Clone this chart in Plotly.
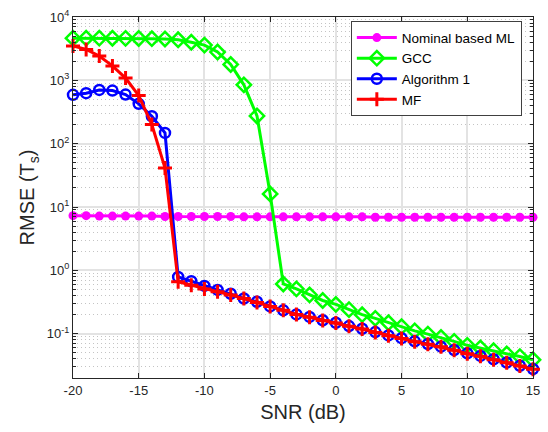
import plotly.graph_objects as go
import math

snr = list(range(-20, 16))

nominal_ml = [7.3, 7.3, 7.2, 7.2, 7.2, 7.2, 7.2, 7.1, 7.1, 7.1, 7.1, 7.1, 7.1, 7.0, 7.0, 7.0,
              7.0, 7.0, 7.0, 7.0, 7.0, 7.0, 7.0, 6.9, 6.9, 6.9, 6.9, 6.9, 6.9, 6.9, 6.9, 6.9,
              6.9, 6.9, 6.9, 6.9]

gcc = [4630, 4630, 4630, 4620, 4600, 4580, 4550, 4500, 4370, 4000, 3600, 2800, 1780, 850, 274, 16.1,
       0.61, 0.51, 0.41, 0.335, 0.29, 0.24, 0.20, 0.175, 0.149, 0.129, 0.111, 0.0986, 0.0875,
       0.0758, 0.0656, 0.0596, 0.054, 0.048, 0.0436, 0.0388]

alg1 = [590, 627, 706, 690, 596, 426, 271, 148, 0.786, 0.673, 0.569, 0.492, 0.427, 0.36, 0.32,
        0.27, 0.234, 0.202, 0.184, 0.163, 0.149, 0.132, 0.12, 0.106, 0.094, 0.085, 0.0758,
        0.0688, 0.0624, 0.0554, 0.049, 0.0446, 0.0396, 0.0351, 0.0312, 0.0277]

mf = [3480, 3080, 2420, 1690, 1086, 575, 200, 41.3, 0.66, 0.583, 0.51, 0.46, 0.41, 0.36, 0.31,
      0.27, 0.234, 0.202, 0.182, 0.162, 0.148, 0.131, 0.119, 0.105, 0.093, 0.084, 0.075,
      0.068, 0.062, 0.055, 0.0485, 0.044, 0.039, 0.0347, 0.0309, 0.0274]

xticks = [-20, -15, -10, -5, 0, 5, 10, 15]
yticks = [0.1, 1, 10, 100, 1000, 10000]
yticklabels = ["10<sup>-1</sup>", "10<sup>0</sup>", "10<sup>1</sup>", "10<sup>2</sup>",
               "10<sup>3</sup>", "10<sup>4</sup>"]

fig = go.Figure()

series = [
    ("Nominal based ML", nominal_ml, "#ff00ff", dict(symbol="circle", size=9, color="#ff00ff")),
    ("GCC", gcc, "#00ff00", dict(symbol="diamond-open", size=11, color="#00ff00",
                                  line=dict(color="#00ff00", width=2.5))),
    ("Algorithm 1", alg1, "#0000ff", dict(symbol="circle-open", size=10, color="#0000ff",
                                          line=dict(color="#0000ff", width=2.5))),
    ("MF", mf, "#ff0000", dict(symbol="cross-thin-open", size=10, color="#ff0000",
                               line=dict(color="#ff0000", width=3))),
]
for name, vals, col, mk in series:
    fig.add_trace(go.Scatter(x=snr, y=vals, name=name, mode="lines+markers",
                             line=dict(color=col, width=3), marker=mk, cliponaxis=False))

axis_font = dict(family="Liberation Sans, Arial, sans-serif", size=13, color="#262626")

fig.update_layout(
    width=548, height=432,
    margin=dict(l=73, r=8, t=12, b=54),
    paper_bgcolor="white", plot_bgcolor="white",
    font=axis_font,
    showlegend=True,
    legend=dict(x=0.604, y=0.988, xanchor="left", yanchor="top",
                bgcolor="white", bordercolor="#404040", borderwidth=1,
                font=dict(family="Liberation Sans, Arial, sans-serif", size=13.5, color="#000"),
                tracegroupgap=0, itemwidth=40, itemsizing="trace"),
    xaxis=dict(range=[-20, 15], tickvals=xticks, ticktext=[str(v) for v in xticks],
               showgrid=True, gridcolor="#e3e3e3", gridwidth=1.5,
               showline=True, linecolor="#262626", linewidth=1, mirror="ticks",
               ticks="inside", ticklen=5, tickcolor="#262626",
               zeroline=False,
               title=dict(text="SNR (dB)", font=dict(size=20, color="#262626"), standoff=8)),
    yaxis=dict(type="log", range=[math.log10(0.02), 4], tickvals=yticks, ticktext=yticklabels,
               showgrid=True, gridcolor="#e3e3e3", gridwidth=1.5,
               showline=True, linecolor="#262626", linewidth=1, mirror="ticks",
               ticks="inside", ticklen=5, tickcolor="#262626",
               zeroline=False,
               minor=dict(dtick="D1", showgrid=True, gridcolor="#c4c4c4", griddash="1px,3px",
                          gridwidth=1, ticks="inside", ticklen=3, tickcolor="#262626"),
               title=dict(text="RMSE (T<sub>s</sub>)", font=dict(size=20, color="#262626"), standoff=6)),
)

fig.write_html("out.html")
